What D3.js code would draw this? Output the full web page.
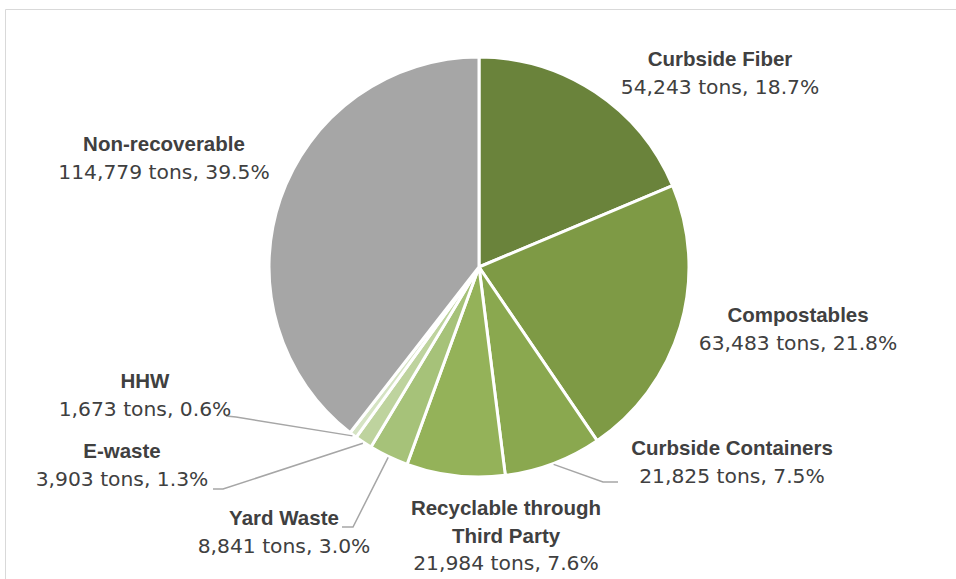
<!DOCTYPE html>
<html><head><meta charset="utf-8">
<script src="https://cdn.jsdelivr.net/npm/d3@7"></script>
<style>html,body{margin:0;padding:0;background:#fff;}svg{display:block;}</style>
</head><body>
<svg id="chart" width="956" height="579"></svg>
<script>
const categories = ["Curbside Fiber","Compostables","Curbside Containers","Recyclable through Third Party","Yard Waste","E-waste","HHW","Non-recoverable"];
const tons = [54243, 63483, 21825, 21984, 8841, 3903, 1673, 114779];
const percentLabels = ["18.7%","21.8%","7.5%","7.6%","3.0%","1.3%","0.6%","39.5%"];
const colors = ["#6a833b","#7e9a45","#8aa84f","#94b259","#a6c279","#bed39e","#d5e3c3","#a6a6a6"];
const nameLines = [["Curbside Fiber"],["Compostables"],["Curbside Containers"],["Recyclable through","Third Party"],["Yard Waste"],["E-waste"],["HHW"],["Non-recoverable"]];

const svg = d3.select("#chart");
const W = 956, H = 579;
const cx = 479, cy = 267, R = 210;

// frame
svg.append("path").attr("d", `M5.5,${H} V9.5 H${W}`).attr("fill","none").attr("stroke","#d9d9d9").attr("stroke-width",1);

const pie = d3.pie().sort(null).value(d => d);
const arcs = pie(tons);
const arc = d3.arc().innerRadius(0).outerRadius(R);

const g = svg.append("g").attr("transform", `translate(${cx},${cy})`);
g.selectAll("path.slice").data(arcs).enter().append("path")
  .attr("class","slice")
  .attr("d", arc)
  .attr("fill", (d,i) => colors[i])
  .attr("stroke", "#fff").attr("stroke-width", 3).attr("stroke-linejoin","round");

// label placement (center x, first baseline) relative to chart
const labelPos = [
  {x:720, y:66}, {x:798, y:322}, {x:732, y:455}, {x:506, y:515},
  {x:284, y:525}, {x:122, y:458}, {x:145, y:388}, {x:164, y:151}
];
// leader lines: [label end point, elbow] for small slices
const leaders = {
  2: [[618,482],[603,482]],
  4: [[342,527],[353,527]],
  5: [[213,489],[223,489]],
  6: [[226,416],[236,417]]
};
const fmt = d3.format(",");
const textColor = "#404040";
const lh = 27.5;

Object.keys(leaders).forEach(k => {
  const i = +k, a = arcs[i];
  const mid = (a.startAngle + a.endAngle)/2;
  const rr = R + 1;
  const px = cx + rr*Math.sin(mid), py = cy - rr*Math.cos(mid);
  const pts = leaders[k].concat([[px,py]]);
  svg.append("path").attr("d", d3.line()(pts)).attr("fill","none")
    .attr("stroke","#a6a6a6").attr("stroke-width",1.5);
});

arcs.forEach((a,i) => {
  const p = labelPos[i];
  const t = svg.append("text").attr("text-anchor","middle").attr("fill", textColor);
  nameLines[i].forEach((ln, j) => {
    t.append("tspan").attr("x", p.x).attr("y", p.y + j*lh)
      .attr("font-family","'Liberation Sans', Arial, sans-serif").attr("font-weight","bold")
      .attr("font-size", "20.5px").text(ln);
  });
  t.append("tspan").attr("x", p.x).attr("y", p.y + nameLines[i].length*lh)
    .attr("font-family","'DejaVu Sans', sans-serif").attr("font-size","20.3px")
    .text(`${fmt(tons[i])} tons, ${percentLabels[i]}`);
});
</script>
</body></html>
